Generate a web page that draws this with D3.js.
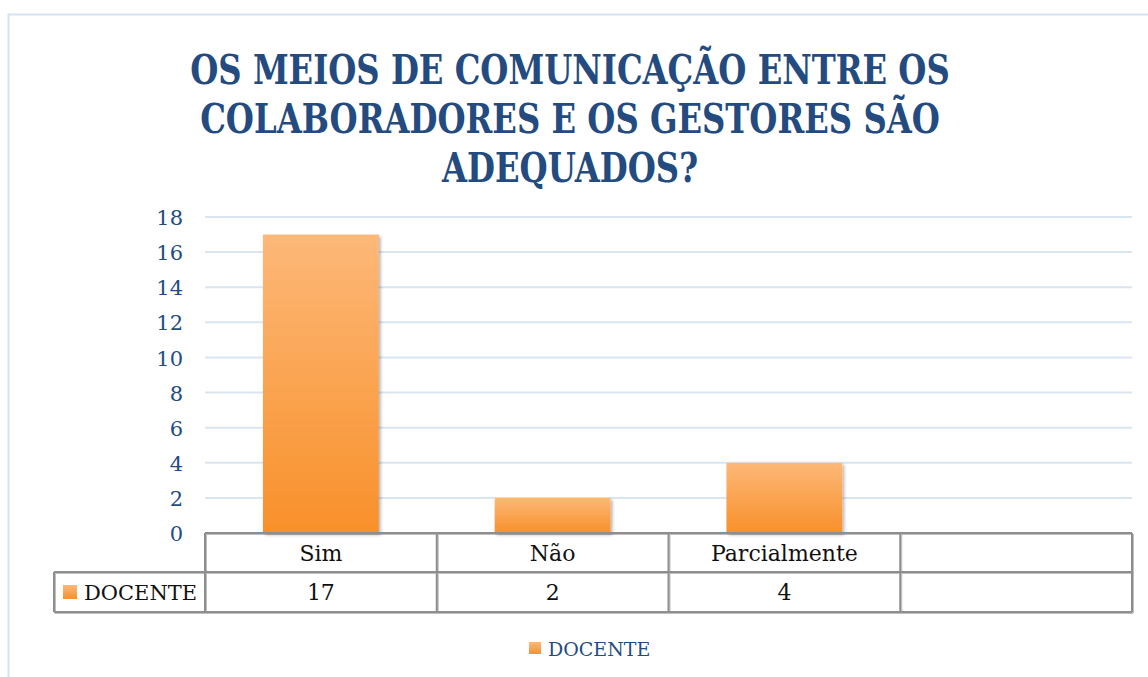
<!DOCTYPE html>
<html>
<head>
<meta charset="utf-8">
<script src="https://cdn.jsdelivr.net/npm/d3@7"></script>
<style>
  html, body { margin: 0; padding: 0; background: #ffffff; }
  svg { display: block; }
</style>
</head>
<body>
<svg id="chart" width="1148" height="677"></svg>
<script>
// Survey answers: "Os meios de comunicação ... são adequados?"
const titleLines = ["OS MEIOS DE COMUNICAÇÃO ENTRE OS", "COLABORADORES E OS GESTORES SÃO", "ADEQUADOS?"];
const categories = ["Sim", "Não", "Parcialmente", ""];
const seriesName = "DOCENTE";
const docenteValues = [17, 2, 4, null];
const yTicks = [0, 2, 4, 6, 8, 10, 12, 14, 16, 18];

const svg = d3.select("#chart");
const W = 1148, H = 677;

const serif = "'DejaVu Serif', 'Liberation Serif', serif";
const blue = "#244c82";
const gridColor = "#dae5f2";
const tableColor = "#8e8e8e";

// Defs: bar gradient and soft shadow
const defs = svg.append("defs");
const grad = defs.append("linearGradient")
  .attr("id", "barGrad").attr("x1", 0).attr("y1", 0).attr("x2", 0).attr("y2", 1);
grad.append("stop").attr("offset", "0%").attr("stop-color", "#fdb878");
grad.append("stop").attr("offset", "100%").attr("stop-color", "#f8902a");

const shadow = defs.append("filter").attr("id", "barShadow")
  .attr("x", "-10%").attr("y", "-10%").attr("width", "130%").attr("height", "130%");
shadow.append("feDropShadow").attr("dx", 2).attr("dy", 2).attr("stdDeviation", 1.6)
  .attr("flood-color", "#000").attr("flood-opacity", 0.28);

const tshadow = defs.append("filter").attr("id", "lineShadow")
  .attr("x", "-5%").attr("y", "-5%").attr("width", "110%").attr("height", "110%");
tshadow.append("feDropShadow").attr("dx", 1).attr("dy", 1).attr("stdDeviation", 0.6)
  .attr("flood-color", "#000").attr("flood-opacity", 0.25);

// Chart area frame
svg.append("rect")
  .attr("x", 8.5).attr("y", 14.5).attr("width", W + 20).attr("height", H + 20)
  .attr("fill", "none").attr("stroke", "#d7e2f1").attr("stroke-width", 2);

// Title: bold serif, condensed horizontally so the first line spans 760px
const titleG = svg.append("g");
const titleInner = titleG.append("g").attr("font-family", serif).attr("font-weight", "bold")
  .attr("font-size", 41).attr("fill", "#234b7f").attr("text-anchor", "middle");
const titleY = [84, 133, 182];
const titleNodes = titleLines.map((t, i) =>
  titleInner.append("text").attr("x", 0).attr("y", titleY[i]).text(t));
const natural0 = titleNodes[0].node().getComputedTextLength();
const squeeze = Math.min(1, 760 / natural0);
titleG.attr("transform", `translate(570,0) scale(${squeeze},1)`);

// Scales
const plotLeft = 205, plotRight = 1132, plotTop = 217, plotBottom = 533;
const x = d3.scaleBand().domain(d3.range(categories.length))
  .range([plotLeft, plotRight]).paddingInner(0.5).paddingOuter(0.25);
const y = d3.scaleLinear().domain([0, 18]).range([plotBottom, plotTop]);

// Gridlines
svg.append("g").selectAll("line").data(yTicks.filter(d => d > 0)).join("line")
  .attr("x1", plotLeft).attr("x2", plotRight)
  .attr("y1", d => y(d)).attr("y2", d => y(d))
  .attr("stroke", gridColor).attr("stroke-width", 2);

// Y axis labels
const yAxis = d3.axisLeft(y).tickValues(yTicks).tickSize(0).tickPadding(0);
const yG = svg.append("g").attr("transform", `translate(${plotLeft - 22},0)`).call(yAxis);
yG.select(".domain").remove();
yG.selectAll("text").attr("font-family", serif).attr("font-size", 21).attr("fill", blue)
  .attr("dy", "0.36em");

// Bars
svg.append("g").selectAll("rect")
  .data(docenteValues.map((v, i) => ({ v, i })).filter(d => d.v != null))
  .join("rect")
  .attr("x", d => x(d.i)).attr("width", x.bandwidth())
  .attr("y", d => y(d.v)).attr("height", d => y(0) - y(d.v))
  .attr("fill", "url(#barGrad)").attr("filter", "url(#barShadow)");

// Data table below the axis
const step = x.step();
const colEdges = d3.range(categories.length + 1).map(i => plotLeft + i * step);
const rowTop = plotBottom, rowMid = 572, rowBottom = 612;
const legendCellLeft = 54;

const tableG = svg.append("g").attr("stroke", tableColor).attr("stroke-width", 2)
  .attr("filter", "url(#lineShadow)");
tableG.append("line").attr("x1", plotLeft).attr("x2", plotRight).attr("y1", rowTop).attr("y2", rowTop);
tableG.append("line").attr("x1", legendCellLeft).attr("x2", plotRight).attr("y1", rowMid).attr("y2", rowMid);
tableG.append("line").attr("x1", legendCellLeft).attr("x2", plotRight).attr("y1", rowBottom).attr("y2", rowBottom);
tableG.append("line").attr("x1", legendCellLeft).attr("x2", legendCellLeft).attr("y1", rowMid).attr("y2", rowBottom);
tableG.selectAll("line.v").data(colEdges).join("line").attr("class", "v")
  .attr("x1", d => d).attr("x2", d => d).attr("y1", rowTop).attr("y2", rowBottom);

const cellText = svg.append("g").attr("font-family", serif).attr("font-size", 22)
  .attr("fill", "#111").attr("text-anchor", "middle");
cellText.selectAll("text.cat").data(categories).join("text").attr("class", "cat")
  .attr("x", (d, i) => x(i) + x.bandwidth() / 2).attr("y", 561).text(d => d);
cellText.selectAll("text.val").data(docenteValues).join("text").attr("class", "val")
  .attr("x", (d, i) => x(i) + x.bandwidth() / 2).attr("y", 600)
  .text(d => d == null ? "" : d);

// Series key inside the table
svg.append("rect").attr("x", 63).attr("y", 585).attr("width", 14).attr("height", 14)
  .attr("fill", "url(#barGrad)");
svg.append("text").attr("x", 84).attr("y", 600).attr("font-family", serif)
  .attr("font-size", 21).attr("fill", "#111").text(seriesName);

// Bottom legend
const legend = svg.append("g").attr("transform", "translate(529,642)");
legend.append("rect").attr("width", 12).attr("height", 12).attr("fill", "url(#barGrad)");
legend.append("text").attr("x", 19).attr("y", 14).attr("font-family", serif)
  .attr("font-size", 19).attr("fill", blue).text(seriesName);
</script>
</body>
</html>
